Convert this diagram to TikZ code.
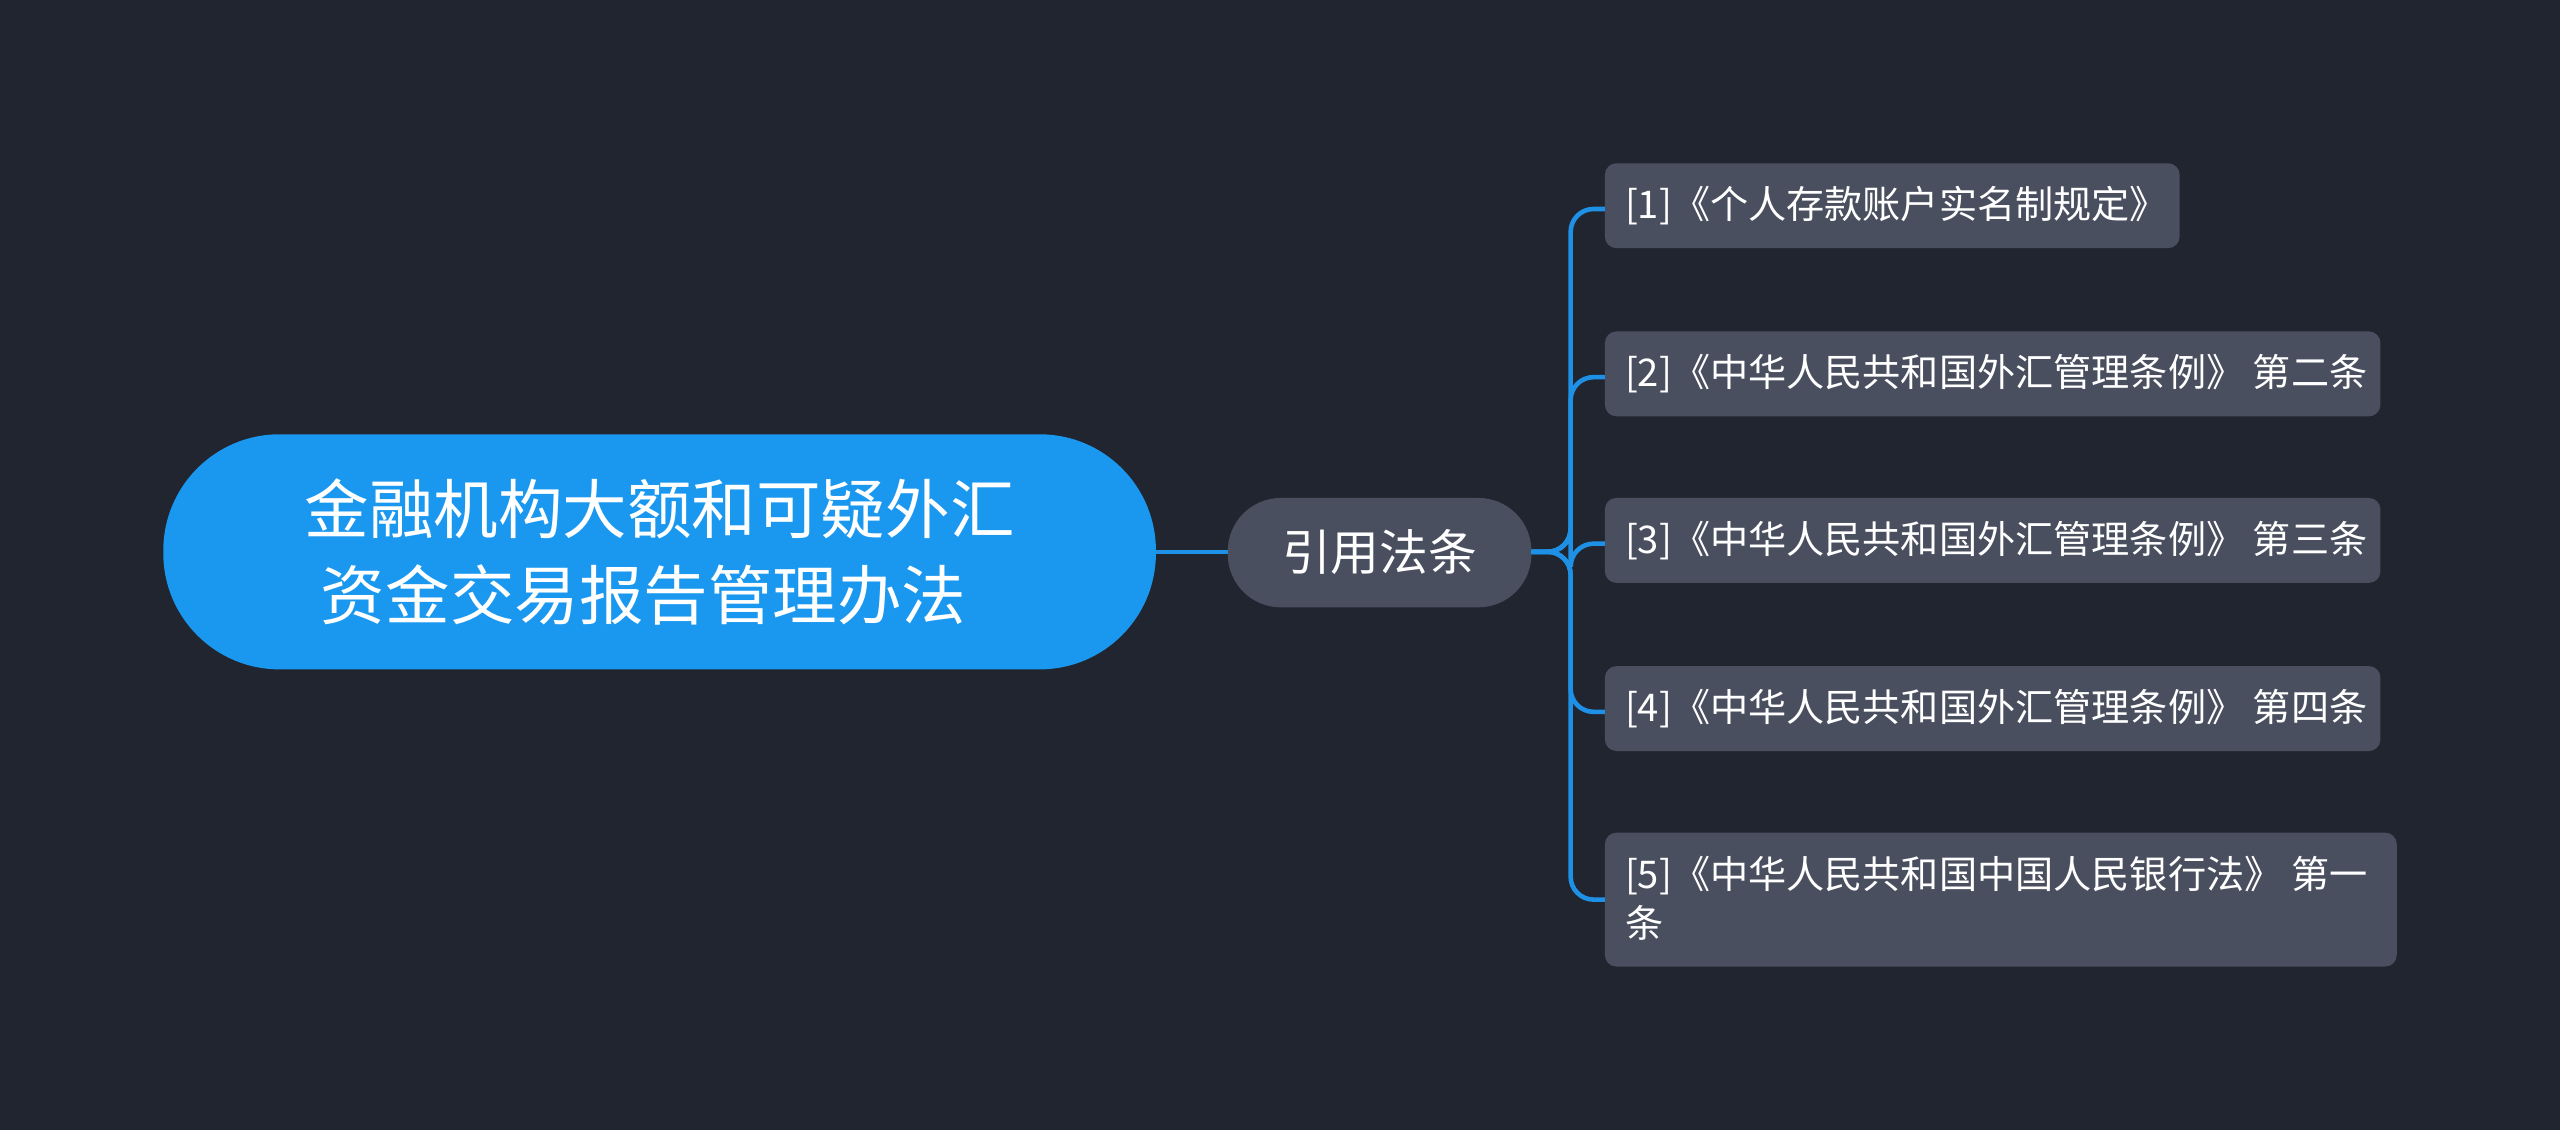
\documentclass[tikz,border=0pt]{standalone}
\usepackage{fontspec}
\setmainfont{Noto Sans CJK SC}
\definecolor{bg}{RGB}{33,37,48}
\definecolor{rootc}{RGB}{26,152,240}
\definecolor{boxc}{RGB}{73,79,94}
\definecolor{linec}{RGB}{30,145,230}
\begin{document}
\begin{tikzpicture}[x=0.02cm,y=-0.02cm,
  conn/.style={draw=linec,line width=1.6pt}]
\fill[bg] (0,0) rectangle (1568,692);
\fill[rootc,rounded corners=40.5pt] (100,266) rectangle (708,410);
\node[text=white,align=left,font=\fontsize{22.5pt}{30pt}\selectfont,inner sep=0pt] (root) at (404,338) {金融机构大额和可疑外汇\\\hspace{0.2cm}资金交易报告管理办法};
\coordinate (rootE) at (708,338);
\fill[boxc,rounded corners=18.5pt] (752,305) rectangle (938,372);
\node[text=white,font=\fontsize{17pt}{20pt}\selectfont] (mid) at (845,338) {引用法条};
\coordinate (midW) at (752,338);
\coordinate (midE) at (938,338);
\draw[conn] (rootE) -- (midW);
\foreach \i/\a/\b/\t/\w in {
 1/100/152/{[1]《个人存款账户实名制规定》}/1335,
 2/203/255/{[2]《中华人民共和国外汇管理条例》 第二条}/1458,
 3/305/357/{[3]《中华人民共和国外汇管理条例》 第三条}/1458,
 4/408/460/{[4]《中华人民共和国外汇管理条例》 第四条}/1458}{
  \fill[boxc,rounded corners=4pt] (983,\a) rectangle (\w,\b);
  \node[text=white,anchor=west,font=\fontsize{13.3pt}{17pt}\selectfont,inner sep=0pt] (l\i) at (995,{(\a+\b)/2}) {\t};
  \coordinate (w\i) at (983,{(\a+\b)/2+2});
  \draw[conn,rounded corners=8pt] (midE) -- (962,338) |- (w\i);
}
\fill[boxc,rounded corners=4pt] (983,510) rectangle (1468,592);
\node[text=white,anchor=north west,align=left,font=\fontsize{13.3pt}{17pt}\selectfont,inner sep=0pt] (l5) at (995,524) {[5]《中华人民共和国中国人民银行法》 第一\\条};
\coordinate (w5) at (983,551);
\draw[conn,rounded corners=8pt] (midE) -- (962,338) |- (w5);
\end{tikzpicture}
\end{document}
